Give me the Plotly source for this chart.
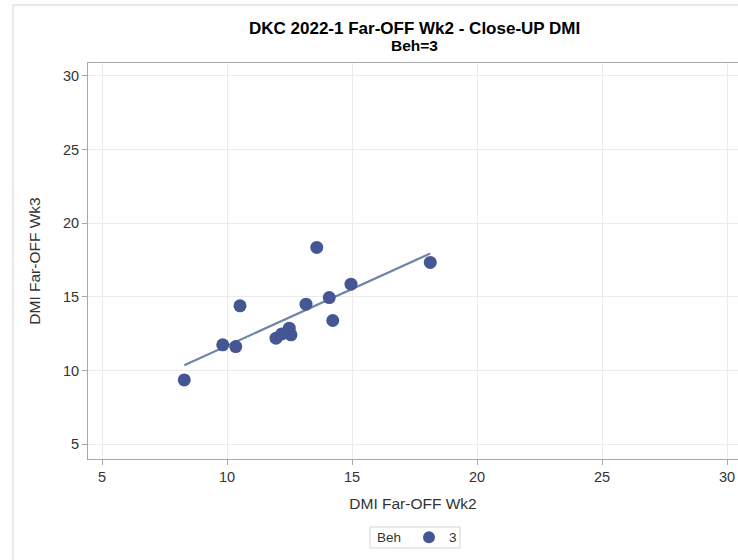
import numpy as np
import plotly.graph_objects as go

# DMI values per animal (Beh=3 group)
dmi_far_off_wk2 = [8.29, 9.83, 10.35, 10.52, 11.96, 12.19, 12.49, 12.56, 13.16, 13.59, 14.09, 14.23, 14.96, 18.13]
dmi_far_off_wk3 = [9.37, 11.75, 11.63, 14.40, 12.20, 12.49, 12.88, 12.43, 14.51, 18.36, 14.96, 13.40, 15.87, 17.34]
group_label = "3"
tick_values = [5, 10, 15, 20, 25, 30]

x = np.array(dmi_far_off_wk2)
y = np.array(dmi_far_off_wk3)

# least-squares regression line over the observed x span
slope, intercept = np.polyfit(x, y, 1)
fit_x = np.array([x.min(), x.max()])
fit_y = intercept + slope * fit_x

FONT = "Liberation Sans, Arial, sans-serif"
AXIS_GRAY = "#A8A8A8"
GRID_GRAY = "#EBEBEB"
TEXT = "#333333"

fig = go.Figure()
fig.add_trace(go.Scatter(
    x=fit_x, y=fit_y, mode="lines",
    line=dict(color="#6F85A8", width=2.2),
    showlegend=False, hoverinfo="skip",
))
fig.add_trace(go.Scatter(
    x=x, y=y, mode="markers", name=group_label,
    marker=dict(size=13, color="#445694", line=dict(width=0)),
))

axis_common = dict(
    showgrid=True, gridcolor=GRID_GRAY, gridwidth=1,
    zeroline=False, showline=True, linecolor=AXIS_GRAY, linewidth=1,
    ticks="outside", ticklen=5, tickcolor=AXIS_GRAY,
    tickfont=dict(family=FONT, size=14.5, color=TEXT),
    tickvals=tick_values,
)

fig.update_layout(
    width=738, height=560,
    margin=dict(l=88, r=0, t=63, b=101),
    paper_bgcolor="white", plot_bgcolor="white",
    font=dict(family=FONT, color=TEXT),
    xaxis=dict(
        range=[4.44, 30.44], mirror=True,
        title=dict(text="DMI Far-OFF Wk2", font=dict(family=FONT, size=15.5, color=TEXT), standoff=13),
        **axis_common,
    ),
    yaxis=dict(
        range=[4.0, 30.88], mirror=False,
        title=dict(text="DMI Far-OFF Wk3", font=dict(family=FONT, size=15.5, color=TEXT), standoff=18),
        **axis_common,
    ),
    legend=dict(
        orientation="h", x=(409 - 88) / 650, xanchor="left", y=-0.198, yanchor="middle",
        font=dict(family=FONT, size=13.5, color=TEXT),
        borderwidth=0, bgcolor="rgba(0,0,0,0)",
        itemsizing="constant",
    ),
    annotations=[
        dict(text="<b>DKC 2022-1 Far-OFF Wk2 - Close-UP DMI</b>", xref="paper", yref="paper",
             x=0.503, y=1.086, xanchor="center", yanchor="middle", showarrow=False,
             font=dict(family=FONT, size=17, color="black")),
        dict(text="<b>Beh=3</b>", xref="paper", yref="paper",
             x=0.503, y=1.043, xanchor="center", yanchor="middle", showarrow=False,
             font=dict(family=FONT, size=15.5, color="black")),
        # legend heading
        dict(text="Beh", xref="paper", yref="paper",
             x=(376 - 88) / 650, y=-0.198, xanchor="left", yanchor="middle", showarrow=False,
             xshift=-1,
             font=dict(family=FONT, size=13.5, color=TEXT)),
    ],
    shapes=[
        # outer page frame
        dict(type="rect", xref="paper", yref="paper",
             x0=-0.1154, x1=1.3, y0=-0.6, y1=1.1465,
             line=dict(color="#D4D4D4", width=1), fillcolor="rgba(0,0,0,0)", layer="below"),
        # legend box
        dict(type="rect", xref="paper", yref="paper",
             x0=0.4338, x1=0.5723, y0=-0.2247, y1=-0.1717,
             line=dict(color="#D4D4D4", width=1), fillcolor="rgba(0,0,0,0)", layer="below"),
    ],
)

fig.write_html("out.html")
